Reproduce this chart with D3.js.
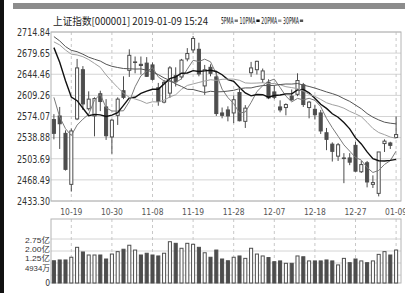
<!DOCTYPE html>
<html>
<head>
<meta charset="utf-8">
<script src="https://cdn.jsdelivr.net/npm/d3@7"></script>
<style>
html,body{margin:0;padding:0;background:#fff;overflow:hidden;}
svg{display:block;}
text{font-family:"Liberation Sans Narrow","DejaVu Sans Condensed","Liberation Sans",sans-serif;fill:#333;}
</style>
</head>
<body>
<svg id="chart" width="405" height="293"></svg>
<script>
var dates = ['10-16','10-17','10-18','10-19','10-22','10-23','10-24','10-25','10-26','10-29',
  '10-30','10-31','11-01','11-02','11-05','11-06','11-07','11-08','11-09','11-12',
  '11-13','11-14','11-15','11-16','11-19','11-20','11-21','11-22','11-23','11-26',
  '11-27','11-28','11-29','11-30','12-03','12-04','12-05','12-06','12-07','12-10',
  '12-11','12-12','12-13','12-14','12-17','12-18','12-19','12-20','12-21','12-24',
  '12-25','12-26','12-27','12-28','01-02','01-03','01-04','01-07','01-08','01-09'];

var opens = [2569,2575,2546,2461,2570,2652,2587,2575,2612,2590,
  2540,2576,2617,2651,2664,2661,2663,2660,2622,2598,
  2613,2642,2640,2670,2685,2686,2625,2656,2640,2580,
  2585,2580,2614,2566,2647,2652,2636,2631,2615,2590,
  2589,2608,2611,2627,2589,2586,2580,2547,2528,2508,
  2504,2505,2526,2482,2497,2461,2446,2529,2530,2539];
var highs = [2578,2590,2551,2554,2670,2658,2616,2606,2617,2603,
  2570,2606,2641,2686,2674,2674,2673,2664,2630,2635,
  2658,2656,2670,2688,2708,2697,2660,2661,2650,2589,
  2591,2609,2620,2593,2665,2667,2654,2636,2626,2601,
  2596,2619,2646,2630,2600,2593,2585,2555,2531,2530,
  2513,2513,2532,2500,2500,2476,2515,2536,2532,2574];
var lows = [2536,2520,2484,2449,2568,2585,2584,2541,2583,2535,
  2512,2560,2603,2640,2646,2644,2640,2634,2592,2596,
  2605,2624,2636,2666,2680,2641,2610,2641,2575,2571,
  2566,2563,2566,2555,2640,2644,2630,2603,2603,2581,
  2576,2600,2608,2590,2571,2569,2545,2518,2499,2500,
  2463,2493,2482,2480,2456,2455,2441,2515,2520,2538];
var closes = [2546,2562,2486,2550,2655,2595,2603,2604,2599,2542,
  2568,2603,2606,2676,2665,2659,2641,2636,2599,2631,
  2655,2632,2668,2679,2704,2645,2652,2646,2579,2576,
  2575,2602,2567,2588,2655,2666,2650,2605,2606,2585,
  2594,2602,2634,2594,2598,2577,2550,2536,2516,2527,
  2505,2498,2483,2494,2465,2464,2515,2533,2526,2544];
// volume, 亿
var volumes = [1.39,1.44,1.44,1.61,2.23,1.94,1.75,1.75,1.75,1.50,
  1.81,1.96,2.11,2.36,2.06,1.75,1.86,1.75,1.69,1.86,
  2.58,2.48,2.17,2.48,2.42,2.23,1.89,1.61,2.06,1.50,
  1.39,1.61,1.69,1.54,2.17,1.81,1.69,1.59,1.33,1.38,
  1.23,1.23,1.69,1.64,1.38,1.38,1.38,1.44,1.38,1.13,
  1.54,1.27,1.50,1.38,1.27,1.38,1.79,1.96,1.75,2.06];

var ma5 = [2606.0,2573.2,2553.8,2542.4,2559.8,2569.6,2577.8,2601.4,2611.2,2588.6,
  2583.2,2583.2,2583.6,2599.0,2623.6,2641.8,2649.4,2655.4,2640.0,2633.2,
  2632.4,2630.6,2637.0,2653.0,2667.6,2665.6,2669.6,2665.2,2645.2,2619.6,
  2605.6,2595.6,2579.8,2581.6,2597.4,2615.6,2625.2,2632.8,2636.4,2622.4,
  2608.0,2598.4,2604.2,2601.8,2604.4,2601.0,2590.6,2571.0,2555.4,2541.2,
  2526.8,2516.4,2505.8,2501.4,2489.0,2480.8,2484.2,2494.2,2500.6,2516.4];
var ma10 = [2688.8,2664.3,2633.7,2606.6,2600.4,2587.8,2575.5,2577.6,2576.8,2574.2,
  2576.4,2580.5,2592.5,2605.1,2606.1,2612.5,2616.3,2619.5,2619.5,2628.4,
  2637.1,2640.0,2646.2,2646.5,2650.4,2649.0,2650.1,2651.1,2649.1,2643.6,
  2635.6,2632.6,2622.5,2613.4,2608.5,2610.6,2610.4,2606.3,2609.0,2609.9,
  2611.8,2611.8,2618.5,2619.1,2613.4,2604.5,2594.5,2587.6,2578.6,2572.8,
  2563.9,2553.5,2538.4,2528.4,2515.1,2503.8,2500.3,2500.0,2501.0,2502.7];
var ma20 = [2698.4,2693.3,2684.8,2677.9,2676.6,2673.7,2668.9,2662.5,2656.0,2643.3,
  2632.6,2622.4,2613.1,2605.9,2603.3,2600.2,2595.9,2598.6,2598.2,2601.3,
  2606.8,2610.3,2619.4,2625.8,2628.3,2630.8,2633.2,2635.3,2634.3,2636.0,
  2636.4,2636.3,2634.4,2630.0,2629.5,2629.8,2630.3,2628.7,2629.1,2626.8,
  2623.7,2622.2,2620.5,2616.3,2611.0,2607.6,2602.5,2597.0,2593.8,2591.4,
  2587.9,2582.7,2578.5,2573.8,2564.3,2554.2,2547.4,2543.8,2539.8,2537.8];
var ma30 = [2707.2,2700.0,2690.6,2684.3,2682.0,2677.8,2672.9,2669.5,2666.4,2661.1,
  2657.7,2655.7,2654.0,2653.6,2653.1,2653.3,2651.3,2648.2,2643.8,2638.3,
  2634.1,2628.3,2624.1,2619.4,2619.0,2616.4,2614.0,2616.1,2615.1,2615.4,
  2616.4,2617.7,2620.4,2621.7,2621.7,2624.0,2625.6,2625.6,2625.9,2627.3,
  2628.2,2628.1,2629.1,2626.3,2624.1,2621.4,2618.3,2615.0,2612.2,2608.8,
  2603.8,2599.3,2593.1,2587.0,2579.0,2573.0,2568.4,2564.6,2562.9,2561.8];

var priceTicks = [2433.30,2468.49,2503.69,2538.88,2574.07,2609.26,2644.46,2679.65,2714.84];
var dateTicks = ['10-19','10-30','11-08','11-19','11-28','12-07','12-18','12-27','01-09'];
var volTicks = [2.75,2.00,1.25,0.4934];
var volTickLabels = ['2.75亿','2.00亿','1.25亿','4934万'];
var maNames = ['5PMA','10PMA','20PMA','30PMA'];
var maColors = ['#7a7a7a','#111','#a0a0a0','#555'];
var maWidths = [1,1.4,1,1];
var title = '上证指数[000001] 2019-01-09 15:24';

var svg = d3.select('#chart');
var left = 51, right = 401;
var upColor = '#fff', downColor = '#4d4d4d', edge = '#4d4d4d';

var rows = dates.map(function(d,i){
  return {date:d, open:opens[i], high:highs[i], low:lows[i], close:closes[i], vol:volumes[i]};
});

var x = d3.scaleBand().domain(dates).range([left, 399]).paddingInner(0.3).paddingOuter(0.15);
var y = d3.scaleLinear().domain([2433.30, 2714.84]).range([201, 32]);
var yv = d3.scaleLinear().domain([0, 2.75]).range([283, 239]);
var volLabelY = d3.scalePoint().domain(volTickLabels).range([240, 268]);
function cx(d){ return x(d) + x.bandwidth()/2; }

// frame bits
svg.append('rect').attr('x',0).attr('y',0).attr('width',4).attr('height',293).style('fill','#111');
svg.append('rect').attr('x',13).attr('y',3).attr('width',392).attr('height',6).style('fill','#8c8c8c');

// title + legend
svg.append('text')
  .attr('x',53).attr('y',25)
  .attr('textLength',155).attr('lengthAdjust','spacingAndGlyphs')
  .style('font-family','"Noto Sans CJK SC","DejaVu Sans Condensed",sans-serif')
  .style('font-size','10px')
  .style('fill','#222')
  .text(title);

// legend text is squeezed with a scale so its box matches what is drawn
var lx = 221;
maNames.forEach(function(name,i){
  var w = name.length*3.15;
  var t = svg.append('text')
    .attr('x',0).attr('y',0)
    .style('font-size','9.5px')
    .style('fill','#222')
    .text(name);
  var natural = t.node().getComputedTextLength();
  t.attr('transform','translate(' + lx + ',24) scale(' + (w/natural) + ',1)');
  svg.append('rect')
    .attr('x',lx+w+1).attr('y',19.5)
    .attr('width',3.3).attr('height',2.5)
    .style('fill',maColors[i]);
  lx += w + 1 + 3.3 + 1.7;
});

// price panel
var price = svg.append('g');
price.selectAll('.hgrid')
  .data(priceTicks)
  .enter().append('line')
  .attr('class','hgrid')
  .attr('x1',left).attr('x2',right)
  .attr('y1',function(d){ return y(d); }).attr('y2',function(d){ return y(d); })
  .style('stroke','#d4d4d4');

price.selectAll('.vgrid')
  .data(dateTicks)
  .enter().append('line')
  .attr('class','vgrid')
  .attr('x1',function(d){ return cx(d); }).attr('x2',function(d){ return cx(d); })
  .attr('y1',y.range()[1]).attr('y2',y.range()[0])
  .style('stroke','#c8c8c8')
  .style('stroke-dasharray','3,3');

price.append('rect')
  .attr('x',left).attr('y',y.range()[1])
  .attr('width',right-left).attr('height',y.range()[0]-y.range()[1])
  .style('fill','none').style('stroke','#b4b4b4');

var yAxis = svg.append('g')
  .attr('transform','translate(50,0)')
  .call(d3.axisLeft(y).tickValues(priceTicks).tickSize(0).tickPadding(0).tickFormat(d3.format('.2f')));
yAxis.select('.domain').remove();
yAxis.selectAll('text')
  .attr('textLength',33).attr('lengthAdjust','spacingAndGlyphs')
  .style('font-size','10.5px')
  .style('fill','#333');

// candles
var candle = price.selectAll('.candle')
  .data(rows)
  .enter().append('g')
  .attr('class','candle');

candle.append('line')
  .attr('x1',function(d){ return cx(d.date); }).attr('x2',function(d){ return cx(d.date); })
  .attr('y1',function(d){ return y(d.high); }).attr('y2',function(d){ return y(d.low); })
  .style('stroke',edge);

candle.append('rect')
  .attr('x',function(d){ return x(d.date)+0.5; })
  .attr('width',x.bandwidth()-1)
  .attr('y',function(d){ return y(Math.max(d.open,d.close)); })
  .attr('height',function(d){ return Math.max(0.5, Math.abs(y(d.open)-y(d.close))); })
  .style('fill',function(d){ return d.close >= d.open ? upColor : downColor; })
  .style('stroke',edge);

// moving averages
var maSeries = [ma5, ma10, ma20, ma30];
maSeries.forEach(function(series,k){
  var line = d3.line()
    .x(function(v,i){ return cx(dates[i]); })
    .y(function(v){ return y(v); });
  price.append('path')
    .datum(series)
    .attr('d',line)
    .style('fill','none')
    .style('stroke',maColors[k])
    .style('stroke-width',maWidths[k]);
});

// date labels
svg.selectAll('.date-label')
  .data(dateTicks)
  .enter().append('text')
  .attr('class','date-label')
  .attr('x',function(d){ return cx(d); })
  .attr('y',215)
  .attr('text-anchor','middle')
  .attr('textLength',22).attr('lengthAdjust','spacingAndGlyphs')
  .style('font-size','8px')
  .style('fill','#555')
  .text(function(d){ return d; });

// volume panel
var vol = svg.append('g');
vol.selectAll('.vhgrid')
  .data(volTicks)
  .enter().append('line')
  .attr('class','vhgrid')
  .attr('x1',left).attr('x2',right)
  .attr('y1',function(d){ return yv(d); }).attr('y2',function(d){ return yv(d); })
  .style('stroke','#d4d4d4');

vol.selectAll('.vvgrid')
  .data(dateTicks)
  .enter().append('line')
  .attr('class','vvgrid')
  .attr('x1',function(d){ return cx(d); }).attr('x2',function(d){ return cx(d); })
  .attr('y1',219).attr('y2',yv(0))
  .style('stroke','#c8c8c8')
  .style('stroke-dasharray','3,3');

vol.append('rect')
  .attr('x',left).attr('y',219)
  .attr('width',right-left).attr('height',yv(0)-219)
  .style('fill','none').style('stroke','#b4b4b4');

vol.selectAll('.vbar')
  .data(rows)
  .enter().append('rect')
  .attr('class','vbar')
  .attr('x',function(d){ return x(d.date)+0.5; })
  .attr('width',x.bandwidth()-1)
  .attr('y',function(d){ return yv(d.vol); })
  .attr('height',function(d){ return yv(0)-yv(d.vol); })
  .style('fill',function(d){ return d.close >= d.open ? upColor : downColor; })
  .style('stroke',edge);

svg.selectAll('.vol-label')
  .data(volTickLabels)
  .enter().append('text')
  .attr('class','vol-label')
  .attr('x',50)
  .attr('y',function(d){ return volLabelY(d); })
  .attr('dy','0.35em')
  .attr('text-anchor','end')
  .attr('textLength',25).attr('lengthAdjust','spacingAndGlyphs')
  .style('font-family','"Liberation Sans","Noto Sans CJK SC",sans-serif')
  .style('font-size','8px')
  .text(function(d){ return d; });

svg.append('text')
  .attr('x',50).attr('y',yv(0))
  .attr('dy','0.35em')
  .attr('text-anchor','end')
  .style('font-size','8.5px')
  .text('0');
</script>
</body>
</html>
